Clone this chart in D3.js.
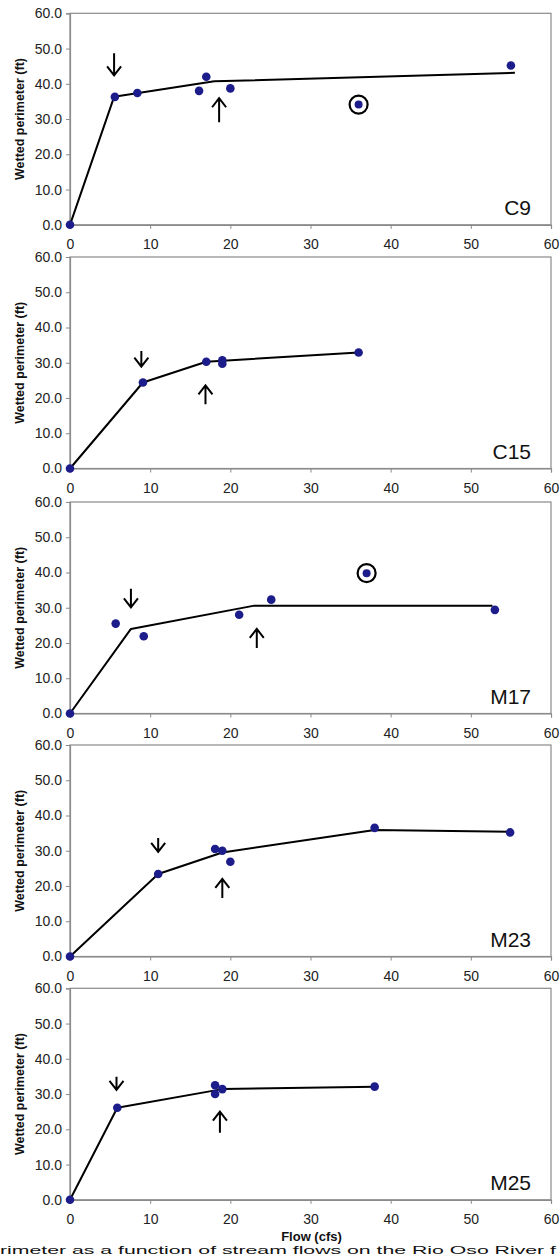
<!DOCTYPE html>
<html>
<head>
<meta charset="utf-8">
<script src="https://cdn.jsdelivr.net/npm/d3@7"></script>
<style>
  html, body { margin: 0; padding: 0; background: #fff; overflow: hidden; }
  svg { display: block; font-family: Arial, "Liberation Sans", sans-serif; }
</style>
</head>
<body>
<svg id="chart" width="560" height="1257"></svg>
<script>
// ---------- data ----------
const xTicks = [0, 10, 20, 30, 40, 50, 60];
const yTicks = [0, 10, 20, 30, 40, 50, 60];
const sites = ["C9", "C15", "M17", "M23", "M25"];

// observed points
const flowC9  = [0, 5.6, 8.4, 16.1, 17.0, 20.0, 55.0];
const perimC9 = [0, 36.3, 37.4, 38.0, 42.0, 38.7, 45.2];
const flowC15  = [0, 9.1, 17.0, 19.0, 19.0, 36.0];
const perimC15 = [0, 24.4, 30.3, 30.7, 29.7, 32.9];
const flowM17  = [0, 5.7, 9.2, 21.1, 25.1, 53.0];
const perimM17 = [0, 25.5, 21.9, 28.0, 32.3, 29.4];
const flowM23  = [0, 11.0, 18.1, 19.0, 20.0, 38.0, 54.9];
const perimM23 = [0, 23.4, 30.5, 30.0, 26.9, 36.5, 35.2];
const flowM25  = [0, 5.9, 18.1, 18.1, 19.0, 38.0];
const perimM25 = [0, 26.1, 32.5, 30.0, 31.4, 32.1];

// circled outliers
const outFlowC9 = [36.0],  outPerimC9 = [34.1];
const outFlowM17 = [37.0], outPerimM17 = [39.8];

// fitted broken-line curves
const fitFlowC9  = [0, 5.5, 18.0, 55.5];
const fitPerimC9 = [0, 36.3, 40.7, 43.1];
const fitFlowC15  = [0, 9.1, 17.0, 36.0];
const fitPerimC15 = [0, 24.4, 30.3, 32.9];
const fitFlowM17  = [0, 7.6, 23.0, 52.7];
const fitPerimM17 = [0, 24.0, 30.6, 30.6];
const fitFlowM23  = [0, 11.0, 19.0, 38.0, 55.0];
const fitPerimM23 = [0, 23.4, 29.5, 35.9, 35.4];
const fitFlowM25  = [0, 5.9, 19.0, 38.0];
const fitPerimM25 = [0, 26.1, 31.4, 32.1];

// arrows: flow position, tail value, tip value
const downArrowFlow = [5.5, 8.9, 7.6, 11.0, 5.8];
const downArrowTail = [48.7, 33.3, 35.4, 33.6, 34.9];
const downArrowTip  = [42.4, 28.9, 30.1, 29.7, 31.2];
const upArrowFlow = [18.6, 16.9, 23.3, 19.0, 18.7];
const upArrowTail = [29.1, 18.2, 18.6, 16.6, 19.0];
const upArrowTip  = [35.9, 23.6, 24.0, 22.0, 25.0];

const yAxisTitle = "Wetted perimeter (ft)";
const xAxisTitle = "Flow (cfs)";
const caption = "rimeter as a function of stream flows on the Rio Oso River f";

// ---------- assembly ----------
const panels = [
  {flow: flowC9, perim: perimC9, fitF: fitFlowC9, fitP: fitPerimC9, outF: outFlowC9, outP: outPerimC9},
  {flow: flowC15, perim: perimC15, fitF: fitFlowC15, fitP: fitPerimC15, outF: [], outP: []},
  {flow: flowM17, perim: perimM17, fitF: fitFlowM17, fitP: fitPerimM17, outF: outFlowM17, outP: outPerimM17},
  {flow: flowM23, perim: perimM23, fitF: fitFlowM23, fitP: fitPerimM23, outF: [], outP: []},
  {flow: flowM25, perim: perimM25, fitF: fitFlowM25, fitP: fitPerimM25, outF: [], outP: []}
];

const svg = d3.select("#chart");
const left = 70, right = 551;
const tops = [13.3, 257, 502, 745, 988.3];
const plotH = 211.5;
const frameColor = "#8a8a8a";
const dotColor = "#1c1c8a";

const x = d3.scaleLinear().domain([0, 60]).range([left, right]);

panels.forEach((p, i) => {
  const top = tops[i], bottom = top + plotH;
  const y = d3.scaleLinear().domain([0, 60]).range([bottom, top]);
  const g = svg.append("g");

  // plot frame
  g.append("rect")
    .attr("x", left).attr("y", top)
    .attr("width", right - left).attr("height", plotH)
    .attr("fill", "#fff").attr("stroke", frameColor).attr("stroke-width", 1.2);

  // y axis
  const yAx = g.append("g").attr("transform", `translate(${left},0)`)
    .call(d3.axisLeft(y).tickValues(yTicks).tickSize(4).tickPadding(4).tickFormat(d3.format(".1f")));
  yAx.select(".domain").attr("stroke", frameColor).attr("stroke-width", 1.2);
  yAx.selectAll(".tick line").attr("stroke", frameColor);
  yAx.selectAll(".tick text").attr("font-size", "14px").attr("fill", "#222")
    .attr("font-family", "Arial, 'Liberation Sans', sans-serif");

  // x axis
  const xAx = g.append("g").attr("transform", `translate(0,${bottom})`)
    .call(d3.axisBottom(x).tickValues(xTicks).tickSize(4).tickPadding(0).tickFormat(d3.format("d")));
  xAx.select(".domain").attr("stroke", frameColor).attr("stroke-width", 1.2);
  xAx.selectAll(".tick line").attr("stroke", frameColor);
  xAx.selectAll(".tick text").attr("font-size", "14px").attr("fill", "#222")
    .attr("font-family", "Arial, 'Liberation Sans', sans-serif")
    .attr("dy", null).attr("y", 24.5).attr("dominant-baseline", "auto");

  // y axis title
  g.append("text")
    .attr("transform", `translate(24,${(top + bottom) / 2}) rotate(-90)`)
    .attr("text-anchor", "middle")
    .attr("font-size", "12.5px").attr("font-weight", "bold").attr("fill", "#111")
    .text(yAxisTitle);

  // fitted line
  const fitData = p.fitF.map((f, k) => [f, p.fitP[k]]);
  g.append("path")
    .datum(fitData)
    .attr("fill", "none").attr("stroke", "#000").attr("stroke-width", 2)
    .attr("stroke-linejoin", "round")
    .attr("d", d3.line().x(d => x(d[0])).y(d => y(d[1])));

  // points
  const pts = p.flow.map((f, k) => [f, p.perim[k]]);
  g.selectAll("circle.pt").data(pts).enter().append("circle")
    .attr("class", "pt")
    .attr("cx", d => x(d[0])).attr("cy", d => y(d[1])).attr("r", 4.3)
    .attr("fill", dotColor);

  // outliers
  const outs = p.outF.map((f, k) => [f, p.outP[k]]);
  g.selectAll("circle.ring").data(outs).enter().append("circle")
    .attr("class", "ring")
    .attr("cx", d => x(d[0])).attr("cy", d => y(d[1])).attr("r", 9)
    .attr("fill", "none").attr("stroke", "#000").attr("stroke-width", 2.2);
  g.selectAll("circle.op").data(outs).enter().append("circle")
    .attr("class", "op")
    .attr("cx", d => x(d[0])).attr("cy", d => y(d[1])).attr("r", 4)
    .attr("fill", dotColor);

  // arrows
  const arrow = (fx, tail, tip) => {
    const ax = x(fx), y0 = y(tail), y1 = y(tip);
    const dir = y1 > y0 ? 1 : -1;
    const hw = 7, hh = 9;
    g.append("path")
      .attr("d", `M${ax},${y0}L${ax},${y1}M${ax - hw},${y1 - dir * hh}L${ax},${y1}L${ax + hw},${y1 - dir * hh}`)
      .attr("fill", "none").attr("stroke", "#000").attr("stroke-width", 2)
      .attr("stroke-linejoin", "miter");
  };
  arrow(downArrowFlow[i], downArrowTail[i], downArrowTip[i]);
  arrow(upArrowFlow[i], upArrowTail[i], upArrowTip[i]);

  // site label
  g.append("text")
    .attr("x", 531).attr("y", bottom - 9.5)
    .attr("text-anchor", "end")
    .attr("font-size", "21px").attr("fill", "#111")
    .text(sites[i]);
});

// x axis title
svg.append("text")
  .attr("x", (left + right) / 2 + 1).attr("y", 1240.5)
  .attr("text-anchor", "middle")
  .attr("font-size", "13px").attr("font-weight", "bold").attr("fill", "#111")
  .text(xAxisTitle);

// caption (partially visible at bottom edge in the reference)
svg.append("text")
  .attr("x", 0).attr("y", 1254)
  .attr("font-size", "11px").attr("fill", "#111")
  .attr("textLength", 556).attr("lengthAdjust", "spacingAndGlyphs")
  .text(caption);
</script>
</body>
</html>
